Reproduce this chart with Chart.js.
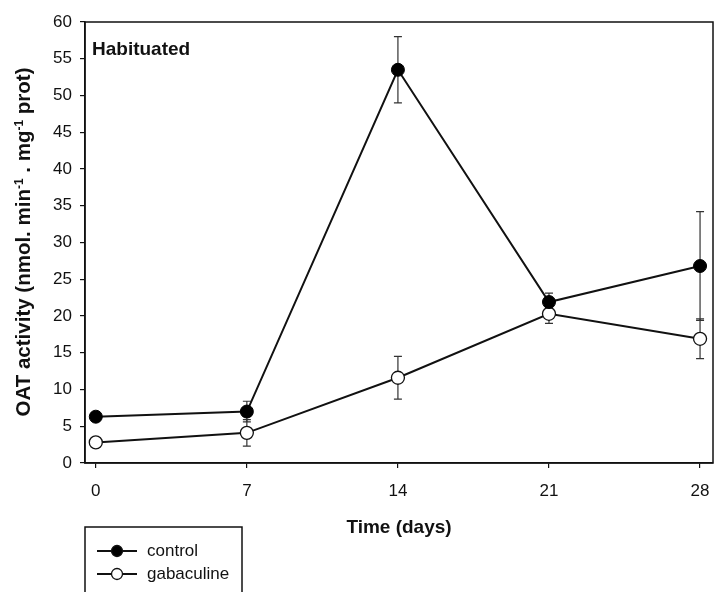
<!DOCTYPE html>
<html><head><meta charset="utf-8">
<script src="https://cdn.jsdelivr.net/npm/chart.js@4/dist/chart.umd.min.js"></script>
<style>html,body{margin:0;padding:0;background:#fff}#wrap{width:714px;height:592px}</style>
</head><body><div id="wrap"><canvas id="c" width="714" height="592"></canvas></div>
<script>
// OAT activity over time, habituated cells
const days = [0, 7, 14, 21, 28];
const controlMean = [6.3, 7.0, 53.5, 21.9, 26.8];
const controlErr = [0.3, 1.4, 4.5, 1.2, 7.4];
const gabaMean = [2.8, 4.1, 11.6, 20.3, 16.9];
const gabaErr = [0.3, 1.8, 2.9, 1.3, 2.7];
const xTicks = [0, 7, 14, 21, 28];
const yTicks = [0, 5, 10, 15, 20, 25, 30, 35, 40, 45, 50, 55, 60];
const seriesNames = ['control', 'gabaculine'];
const panelLabel = 'Habituated';
const xTitle = 'Time (days)';
const yTitleParts = [['OAT activity (nmol. min', false], ['-1', true], [' . mg', false], ['-1', true], [' prot)', false]];

const FONT = "'Liberation Sans', Arial, sans-serif";
const INK = '#111';

const toPoints = (ys) => days.map((d, i) => ({ x: d, y: ys[i] }));

// vertical error bars with caps, drawn beneath the lines and markers
const errorBars = {
  id: 'errorBars',
  beforeDatasetsDraw(chart) {
    const { ctx, scales: { x, y } } = chart;
    const sets = [[controlMean, controlErr], [gabaMean, gabaErr]];
    ctx.save();
    ctx.strokeStyle = '#333';
    ctx.lineWidth = 1.2;
    sets.forEach(([m, e]) => {
      days.forEach((d, i) => {
        const px = x.getPixelForValue(d);
        const top = y.getPixelForValue(m[i] + e[i]);
        const bot = y.getPixelForValue(m[i] - e[i]);
        ctx.beginPath();
        ctx.moveTo(px, top); ctx.lineTo(px, bot);
        ctx.moveTo(px - 4, top); ctx.lineTo(px + 4, top);
        ctx.moveTo(px - 4, bot); ctx.lineTo(px + 4, bot);
        ctx.stroke();
      });
    });
    ctx.restore();
  }
};

// frame, titles, panel label and legend box
const decor = {
  id: 'decor',
  afterDraw(chart) {
    const { ctx, chartArea: a } = chart;
    ctx.save();
    ctx.strokeStyle = INK;
    ctx.lineWidth = 1.5;
    ctx.strokeRect(a.left, a.top, a.right - a.left, a.bottom - a.top);

    ctx.fillStyle = INK;
    ctx.textBaseline = 'middle';
    ctx.font = `bold 19px ${FONT}`;
    ctx.textAlign = 'left';
    ctx.fillText(panelLabel, a.left + 7, 50);

    ctx.textAlign = 'center';
    ctx.font = `bold 19px ${FONT}`;
    ctx.fillText(xTitle, (a.left + a.right) / 2, 528);

    // rotated y title with superscripts
    const big = `bold 20.5px ${FONT}`, small = `bold 12px ${FONT}`;
    let total = 0;
    yTitleParts.forEach(([t, sup]) => { ctx.font = sup ? small : big; total += ctx.measureText(t).width; });
    ctx.translate(23, 242);
    ctx.rotate(-Math.PI / 2);
    ctx.textAlign = 'left';
    ctx.textBaseline = 'alphabetic';
    let cx = -total / 2;
    yTitleParts.forEach(([t, sup]) => {
      ctx.font = sup ? small : big;
      ctx.fillText(t, cx, sup ? -0.5 : 7);
      cx += ctx.measureText(t).width;
    });
    ctx.setTransform(1, 0, 0, 1, 0, 0);

    // legend
    ctx.lineWidth = 1.5;
    ctx.strokeStyle = INK;
    ctx.strokeRect(85, 527, 157, 80);
    const rows = [[551, '#000'], [574, '#fff']];
    rows.forEach(([yy, fill], i) => {
      ctx.lineWidth = 2;
      ctx.beginPath(); ctx.moveTo(97, yy); ctx.lineTo(137, yy); ctx.stroke();
      ctx.beginPath(); ctx.arc(117, yy, 5.5, 0, Math.PI * 2);
      ctx.fillStyle = fill; ctx.fill();
      ctx.lineWidth = 1.3; ctx.stroke();
      ctx.fillStyle = INK;
      ctx.font = `17px ${FONT}`;
      ctx.textAlign = 'left';
      ctx.textBaseline = 'middle';
      ctx.fillText(seriesNames[i], 147, yy);
    });
    ctx.restore();
  }
};

new Chart(document.getElementById('c'), {
  type: 'line',
  data: {
    datasets: [
      {
        label: seriesNames[0], data: toPoints(controlMean),
        borderColor: INK, borderWidth: 2, backgroundColor: '#000',
        pointRadius: 6.5, pointBackgroundColor: '#000', pointBorderColor: '#000', pointBorderWidth: 1
      },
      {
        label: seriesNames[1], data: toPoints(gabaMean),
        borderColor: INK, borderWidth: 2, backgroundColor: '#fff',
        pointRadius: 6.5, pointBackgroundColor: '#fff', pointBorderColor: '#111', pointBorderWidth: 1.3
      }
    ]
  },
  options: {
    responsive: false,
    animation: false,
    devicePixelRatio: 1,
    layout: { autoPadding: false, padding: { top: 22, right: 1, left: 0, bottom: 0 } },
    plugins: { legend: { display: false }, tooltip: { enabled: false } },
    scales: {
      x: {
        type: 'linear', min: -0.5, max: 28.6,
        afterBuildTicks: (s) => { s.ticks = xTicks.map(v => ({ value: v })); },
        afterFit: (s) => { s.height = 129; s.paddingLeft = 0; s.paddingRight = 0; },
        grid: { drawOnChartArea: false, drawTicks: true, tickLength: 5, color: INK, lineWidth: 1.2 },
        border: { display: true, color: INK, width: 1.5 },
        ticks: { color: INK, font: { family: FONT, size: 17 }, padding: 13, maxRotation: 0 }
      },
      y: {
        type: 'linear', min: 0, max: 60,
        afterBuildTicks: (s) => { s.ticks = yTicks.map(v => ({ value: v })); },
        afterFit: (s) => { s.width = 85; s.paddingTop = 0; s.paddingBottom = 0; },
        grid: { drawOnChartArea: false, drawTicks: true, tickLength: 5, color: INK, lineWidth: 1.2 },
        border: { display: true, color: INK, width: 1.5 },
        ticks: { color: INK, font: { family: FONT, size: 17 }, padding: 8 }
      }
    }
  },
  plugins: [errorBars, decor]
});
</script></body></html>
